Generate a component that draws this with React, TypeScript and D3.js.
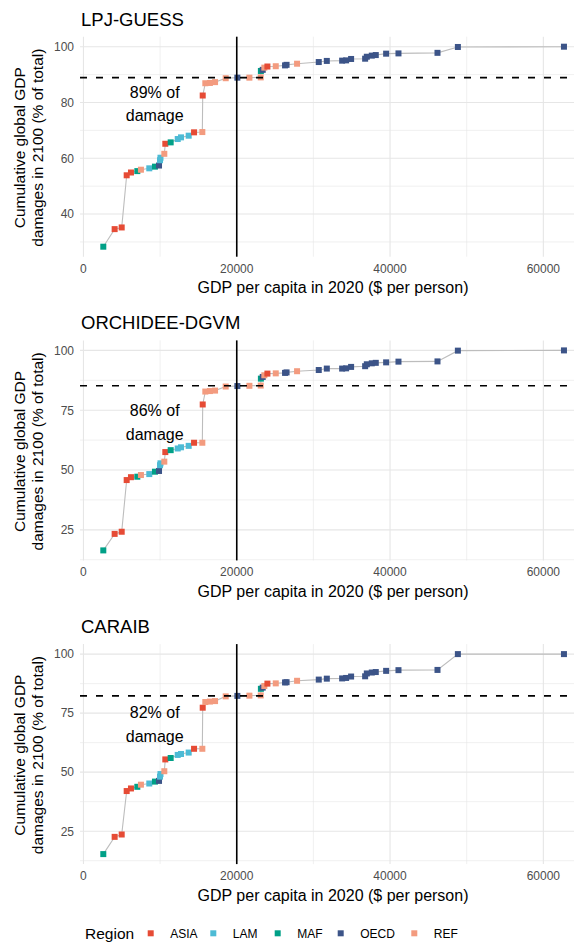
import React from "react";
import * as d3 from "d3";

const W = 579;
const H = 942;

// GDP per capita in 2020 ($ per person), sorted
const gdp = [
  2590, 4070, 4990, 5640, 6200, 7030, 7500, 8590, 9330, 9860,
  9990, 10050, 10550, 10680, 11380, 12300, 12730, 13730, 14430, 15510,
  15560, 15900, 16500, 17170, 18560, 20080, 21650, 23130, 23150, 23390,
  23600, 24000, 25090, 26300, 26500, 27870, 30700, 31750, 33750, 34270,
  34920, 36750, 36970, 37620, 38140, 39490, 41100, 46190, 48850, 62690,
];

const region = [
  "MAF", "ASIA", "ASIA", "ASIA", "ASIA", "MAF", "REF", "LAM", "MAF", "OECD",
  "LAM", "LAM", "REF", "ASIA", "MAF", "LAM", "LAM", "LAM", "ASIA", "REF",
  "ASIA", "REF", "REF", "REF", "REF", "OECD", "REF", "REF", "MAF", "OECD",
  "REF", "ASIA", "REF", "OECD", "OECD", "REF", "OECD", "OECD", "OECD", "OECD",
  "OECD", "OECD", "OECD", "OECD", "OECD", "OECD", "OECD", "OECD", "OECD", "OECD",
];

// Cumulative global GDP damages in 2100 (% of total)
const lpjGuess = [
  28.3, 34.6, 35.2, 53.9, 54.9, 55.4, 55.9, 56.4, 57.0, 57.4,
  59.3, 60.2, 61.6, 65.2, 65.7, 66.9, 67.5, 68.1, 69.3, 69.4,
  82.5, 86.9, 87.0, 87.3, 88.7, 88.9, 88.9, 89.0, 91.3, 91.7,
  92.5, 92.9, 93.0, 93.3, 93.5, 93.9, 94.5, 94.9, 95.0, 95.1,
  95.6, 95.7, 96.4, 96.8, 97.0, 97.5, 97.6, 97.8, 99.9, 100,
];
const orchidee = [
  16.4, 23.3, 24.2, 45.8, 47.0, 47.2, 47.9, 48.3, 49.3, 49.6,
  52.0, 52.8, 53.5, 57.5, 58.3, 59.0, 59.5, 60.1, 61.4, 61.4,
  77.4, 82.8, 83.0, 83.2, 84.9, 85.1, 85.2, 85.3, 88.2, 88.9,
  89.6, 90.3, 90.4, 90.6, 90.8, 91.3, 91.8, 92.4, 92.4, 92.5,
  93.1, 93.4, 94.2, 94.6, 94.8, 95.0, 95.3, 95.4, 99.9, 100,
];
const caraib = [
  15.3, 22.6, 23.6, 42.0, 43.1, 43.8, 44.7, 45.2, 46.0, 46.3,
  48.1, 49.2, 50.4, 55.4, 56.0, 57.3, 57.7, 58.3, 59.9, 59.9,
  77.3, 79.7, 79.9, 80.1, 82.1, 82.3, 82.4, 82.5, 85.3, 85.8,
  86.5, 87.5, 87.6, 88.0, 88.1, 88.7, 89.2, 89.6, 89.7, 89.9,
  90.5, 90.6, 91.8, 92.2, 92.4, 92.9, 93.2, 93.3, 100, 100,
];

const models = ["LPJ-GUESS", "ORCHIDEE-DGVM", "CARAIB"];
const modelValues = [lpjGuess, orchidee, caraib];
const thresholdShare = [88.9, 85.2, 82.3];
const shareLabels = ["89% of", "86% of", "82% of"];
const labelAnchorY = [79.6, 69.9, 70.2];
const labelAnchorX = 9300;
const thresholdGdp = 20000;

const yTicksList = [
  [40, 60, 80, 100],
  [25, 50, 75, 100],
  [25, 50, 75, 100],
];
const xTicks = [0, 20000, 40000, 60000];
const xMinor = [10000, 30000, 50000];

const regions = ["ASIA", "LAM", "MAF", "OECD", "REF"];
const regionColors = ["#E64B35", "#4DBBD5", "#00A087", "#3C5488", "#F39B7F"];

const FONT = "'Liberation Sans', Arial, Helvetica, sans-serif";
const GRID = "#e6e6e6";
const TICK = "#4d4d4d";

const panelLeft = 80;
const panelRight = 574;
const panelTop0 = 36.7;
const panelStep = 303.7;
const panelH = 220;

const x = d3.scaleLinear().domain([-450, 64000]).range([panelLeft, panelRight]);
const color = d3.scaleOrdinal<string, string>().domain(regions).range(regionColors);

function Panel({ idx }: { idx: number }) {
  const vals = modelValues[idx];
  const top = panelTop0 + idx * panelStep;
  const bottom = top + panelH;
  const vmin = d3.min(vals) as number;
  const vmax = d3.max(vals) as number;
  const pad = (vmax - vmin) * 0.05;
  const y = d3.scaleLinear().domain([vmin - pad, vmax + pad]).range([bottom, top]);
  const yTicks = yTicksList[idx];
  const step = yTicks[1] - yTicks[0];
  const yMinor: number[] = [];
  for (let t = yTicks[0] - step / 2; t <= vmax + pad; t += step) {
    if (t >= vmin - pad) yMinor.push(t);
  }
  const pts = gdp.map((g, i) => ({ g, v: vals[i], r: region[i] }));
  const line = d3
    .line<{ g: number; v: number }>()
    .x((d) => x(d.g))
    .y((d) => y(d.v));
  const s = 6;
  const yc = (top + bottom) / 2 + 1;
  return (
    <g>
      {/* title */}
      <text x={panelLeft + 1} y={top - 11} fontSize={18.5} fill="#000" fontFamily={FONT}>
        {models[idx]}
      </text>
      {/* grid */}
      {yMinor.map((t) => (
        <line key={"ym" + t} x1={panelLeft} x2={panelRight} y1={y(t)} y2={y(t)} stroke={GRID} strokeWidth={0.6} />
      ))}
      {xMinor.map((t) => (
        <line key={"xm" + t} x1={x(t)} x2={x(t)} y1={top} y2={bottom} stroke={GRID} strokeWidth={0.6} />
      ))}
      {yTicks.map((t) => (
        <line key={"yM" + t} x1={panelLeft} x2={panelRight} y1={y(t)} y2={y(t)} stroke={GRID} strokeWidth={1.1} />
      ))}
      {xTicks.map((t) => (
        <line key={"xM" + t} x1={x(t)} x2={x(t)} y1={top} y2={bottom} stroke={GRID} strokeWidth={1.1} />
      ))}
      {/* tick labels */}
      {yTicks.map((t) => (
        <text key={"yl" + t} x={panelLeft - 6} y={y(t)} dy="0.36em" textAnchor="end" fontSize={12} fill={TICK} fontFamily={FONT}>
          {t}
        </text>
      ))}
      {xTicks.map((t) => (
        <text key={"xl" + t} x={x(t)} y={bottom + 16} textAnchor="middle" fontSize={12} fill={TICK} fontFamily={FONT}>
          {t}
        </text>
      ))}
      {/* axis titles */}
      <text x={(panelLeft + panelRight) / 2 + 6} y={bottom + 36.5} textAnchor="middle" fontSize={16} fill="#000" fontFamily={FONT}>
        GDP per capita in 2020 ($ per person)
      </text>
      <g transform={`translate(20,${yc}) rotate(-90)`}>
        <text x={0} y={0} dy="0.35em" textAnchor="middle" fontSize={15.5} fill="#000" fontFamily={FONT}>
          Cumulative global GDP
        </text>
      </g>
      <g transform={`translate(38,${yc}) rotate(-90)`}>
        <text x={0} y={0} dy="0.35em" textAnchor="middle" fontSize={15.5} fill="#000" fontFamily={FONT}>
          damages in 2100 (% of total)
        </text>
      </g>
      {/* connecting line */}
      <path d={line(pts) || ""} fill="none" stroke="#bdbdbd" strokeWidth={1.1} />
      {/* points */}
      {pts.map((p, i) => (
        <rect key={i} x={x(p.g) - s / 2} y={y(p.v) - s / 2} width={s} height={s} fill={color(p.r)} />
      ))}
      {/* reference lines */}
      <line x1={x(thresholdGdp)} x2={x(thresholdGdp)} y1={top} y2={bottom} stroke="#000" strokeWidth={1.6} />
      <line x1={panelLeft} x2={panelRight} y1={y(thresholdShare[idx])} y2={y(thresholdShare[idx])} stroke="#000" strokeWidth={1.6} strokeDasharray="7,9" />
      {/* annotation */}
      <text x={x(labelAnchorX)} y={y(labelAnchorY[idx]) - 11.7} dy="0.35em" textAnchor="middle" fontSize={16} fill="#000" fontFamily={FONT}>
        {shareLabels[idx]}
      </text>
      <text x={x(labelAnchorX)} y={y(labelAnchorY[idx]) + 11.7} dy="0.35em" textAnchor="middle" fontSize={16} fill="#000" fontFamily={FONT}>
        damage
      </text>
    </g>
  );
}

function Legend() {
  const cy = 933.3;
  const sqX = [150.7, 213.3, 277.7, 340.7, 414.3];
  return (
    <g>
      <text x={85} y={cy} dy="0.35em" fontSize={15.5} fill="#000" fontFamily={FONT}>
        Region
      </text>
      {regions.map((r, i) => (
        <g key={r}>
          <rect x={sqX[i] - 3} y={cy - 3} width={6} height={6} fill={color(r)} />
          <text x={sqX[i] + 19.5} y={cy} dy="0.35em" fontSize={12} fill="#000" fontFamily={FONT}>
            {r}
          </text>
        </g>
      ))}
    </g>
  );
}

export default function App() {
  return (
    <svg
      width={W}
      height={H}
      viewBox={`0 0 ${W} ${H}`}
      style={{ position: "absolute", left: 0, top: 0, background: "#fff" }}
    >
      <rect width={W} height={H} fill="#fff" />
      {models.map((m, i) => (
        <Panel key={m} idx={i} />
      ))}
      <Legend />
    </svg>
  );
}
